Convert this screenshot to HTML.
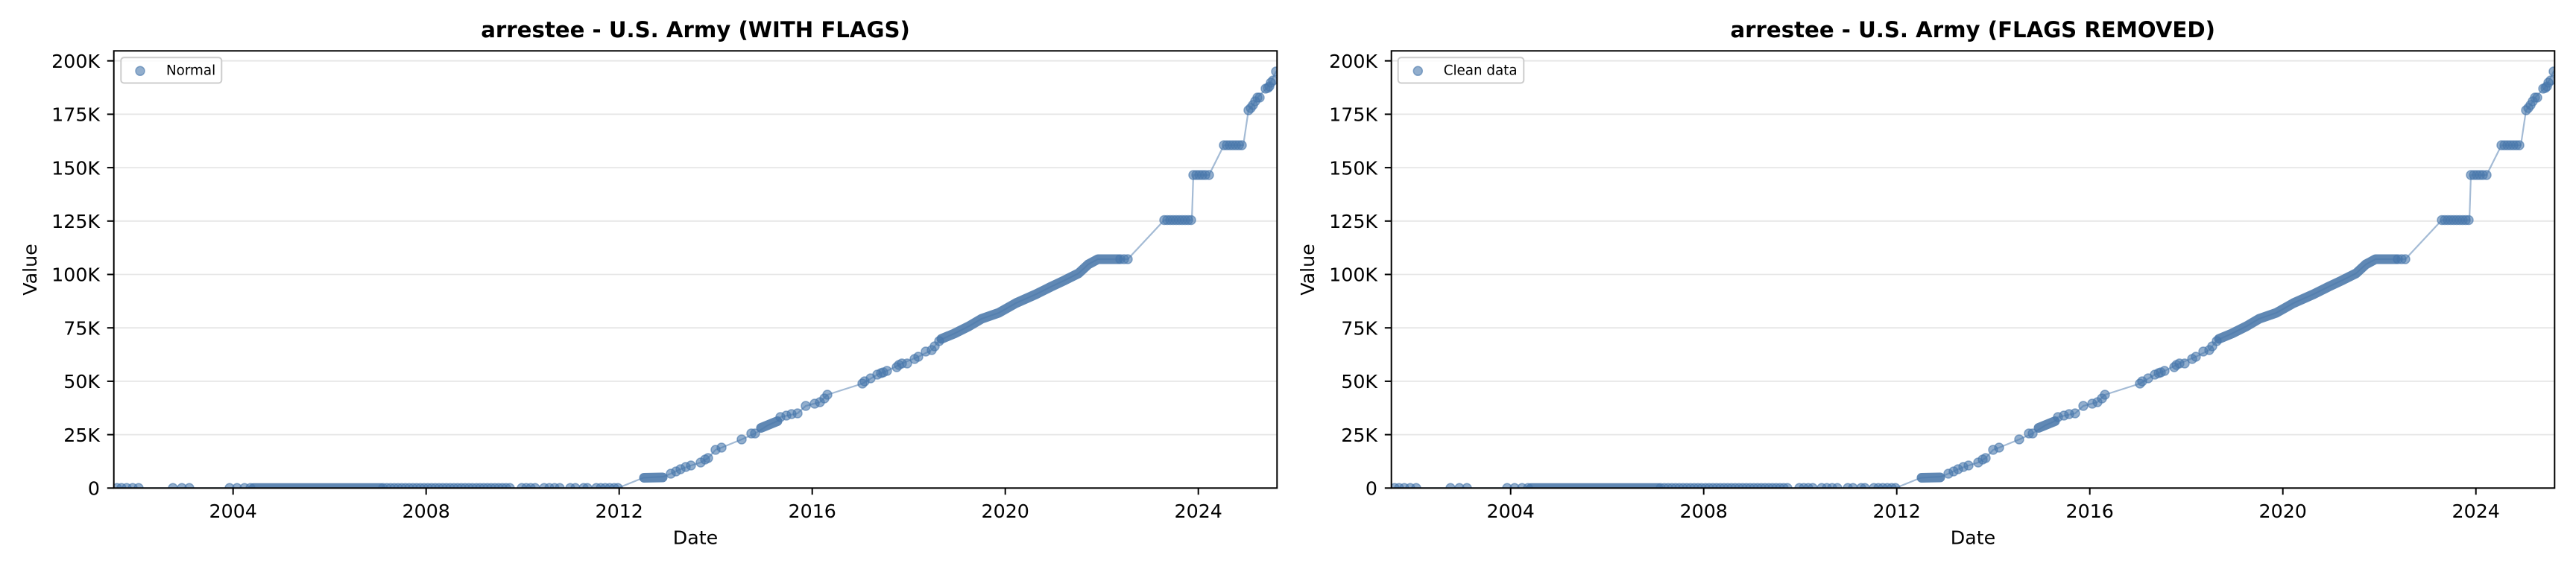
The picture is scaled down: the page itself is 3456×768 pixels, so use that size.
<!DOCTYPE html>
<html><head><meta charset="utf-8"><style>
html,body{margin:0;padding:0;background:#fff}
svg{display:block}
.t{font-family:"DejaVu Sans","Liberation Sans",sans-serif;font-size:25.3px;fill:#000}
.ti{font-family:"DejaVu Sans","Liberation Sans",sans-serif;font-size:29.2px;font-weight:bold;fill:#000}
.lg{font-family:"DejaVu Sans","Liberation Sans",sans-serif;font-size:18.3px;fill:#000}
.m{fill:#4a78ac;fill-opacity:.6;stroke:#4a78ac;stroke-opacity:.6;stroke-width:1.5}
.g{stroke:#e6e6e6;stroke-width:1.8}
.ln{fill:none;stroke:#4a78ac;stroke-opacity:.5;stroke-width:2.2;stroke-linejoin:round}
.bd{fill:none;stroke:#4a77aa;stroke-opacity:.88;stroke-width:13;stroke-linecap:round;stroke-linejoin:round}
</style></head><body>
<svg width="3456" height="768" viewBox="0 0 3456 768" xmlns="http://www.w3.org/2000/svg">
<rect width="3456" height="768" fill="#fff"/>
<defs>
<clipPath id="c"><rect x="152.7" y="68.3" width="1560.6" height="587"/></clipPath>
</defs>

<g id="ax">
  <g>
    <line class="g" x1="152.7" x2="1713.3" y1="583.6" y2="583.6"/>
    <line class="g" x1="152.7" x2="1713.3" y1="511.9" y2="511.9"/>
    <line class="g" x1="152.7" x2="1713.3" y1="440.2" y2="440.2"/>
    <line class="g" x1="152.7" x2="1713.3" y1="368.5" y2="368.5"/>
    <line class="g" x1="152.7" x2="1713.3" y1="296.8" y2="296.8"/>
    <line class="g" x1="152.7" x2="1713.3" y1="225.1" y2="225.1"/>
    <line class="g" x1="152.7" x2="1713.3" y1="153.4" y2="153.4"/>
    <line class="g" x1="152.7" x2="1713.3" y1="81.7" y2="81.7"/>
  </g>
  <g clip-path="url(#c)">
    <polyline class="ln" points="157,655.3 829,655.3 863,641.5 890,640 900,636 913,630 927,625 940,621 950,615 960,604 968,601 995,590 1013,582 1030,571 1044,565 1047,560 1070,555 1081,545 1100,540 1110,530 1157,515 1177,503 1190,498 1210,488 1232,479 1250,470 1260,457 1280,448 1300,438 1317,428 1340,420 1363,407 1390,395 1410,385 1427,377 1447,367 1460,355 1473,348 1513,348 1562,295.5 1599,295.5 1601,235 1622,235 1642,195 1668,195 1675,148 1681,141 1687,131 1700,118 1705,110 1712,96 1720,90"/>
    <polyline class="bd" points="340,655.3 511,655.3"/>
    <polyline class="bd" points="864,641.5 889,641"/>
    <polyline class="bd" points="1021,574.5 1043,565.5"/>
    <polyline class="bd" points="1263,455 1280,448 1300,438 1317,428 1340,420 1363,407 1390,395 1410,385 1427,377 1447,367 1460,355 1473,348 1500,348"/>
    <g>
      <circle class="m" r="6" cx="157" cy="655.3"/><circle class="m" r="6" cx="163" cy="655.3"/><circle class="m" r="6" cx="170" cy="655.3"/><circle class="m" r="6" cx="178" cy="655.3"/><circle class="m" r="6" cx="186" cy="655.3"/>
      <circle class="m" r="6" cx="232" cy="655.3"/><circle class="m" r="6" cx="244" cy="655.3"/><circle class="m" r="6" cx="254" cy="655.3"/>
      <circle class="m" r="6" cx="308" cy="655.3"/><circle class="m" r="6" cx="318" cy="655.3"/><circle class="m" r="6" cx="328" cy="655.3"/><circle class="m" r="6" cx="336" cy="655.3"/>
      <circle class="m" r="6" cx="514" cy="655.3"/><circle class="m" r="6" cx="519" cy="655.3"/><circle class="m" r="6" cx="524" cy="655.3"/><circle class="m" r="6" cx="529" cy="655.3"/><circle class="m" r="6" cx="534" cy="655.3"/><circle class="m" r="6" cx="539" cy="655.3"/><circle class="m" r="6" cx="544" cy="655.3"/><circle class="m" r="6" cx="549" cy="655.3"/><circle class="m" r="6" cx="554" cy="655.3"/><circle class="m" r="6" cx="559" cy="655.3"/><circle class="m" r="6" cx="564" cy="655.3"/><circle class="m" r="6" cx="569" cy="655.3"/><circle class="m" r="6" cx="574" cy="655.3"/><circle class="m" r="6" cx="579" cy="655.3"/><circle class="m" r="6" cx="584" cy="655.3"/><circle class="m" r="6" cx="589" cy="655.3"/><circle class="m" r="6" cx="594" cy="655.3"/><circle class="m" r="6" cx="599" cy="655.3"/><circle class="m" r="6" cx="604" cy="655.3"/><circle class="m" r="6" cx="609" cy="655.3"/><circle class="m" r="6" cx="614" cy="655.3"/><circle class="m" r="6" cx="619" cy="655.3"/><circle class="m" r="6" cx="624" cy="655.3"/><circle class="m" r="6" cx="629" cy="655.3"/><circle class="m" r="6" cx="634" cy="655.3"/><circle class="m" r="6" cx="639" cy="655.3"/><circle class="m" r="6" cx="644" cy="655.3"/><circle class="m" r="6" cx="649" cy="655.3"/><circle class="m" r="6" cx="654" cy="655.3"/><circle class="m" r="6" cx="659" cy="655.3"/><circle class="m" r="6" cx="664" cy="655.3"/><circle class="m" r="6" cx="669" cy="655.3"/><circle class="m" r="6" cx="674" cy="655.3"/><circle class="m" r="6" cx="679" cy="655.3"/><circle class="m" r="6" cx="684" cy="655.3"/>
      <circle class="m" r="6" cx="700" cy="655.3"/><circle class="m" r="6" cx="706" cy="655.3"/><circle class="m" r="6" cx="712" cy="655.3"/><circle class="m" r="6" cx="718" cy="655.3"/><circle class="m" r="6" cx="730" cy="655.3"/><circle class="m" r="6" cx="737" cy="655.3"/><circle class="m" r="6" cx="744" cy="655.3"/><circle class="m" r="6" cx="751" cy="655.3"/><circle class="m" r="6" cx="765" cy="655.3"/><circle class="m" r="6" cx="772" cy="655.3"/><circle class="m" r="6" cx="783" cy="655.3"/><circle class="m" r="6" cx="788" cy="655.3"/><circle class="m" r="6" cx="800" cy="655.3"/><circle class="m" r="6" cx="806" cy="655.3"/><circle class="m" r="6" cx="812" cy="655.3"/><circle class="m" r="6" cx="818" cy="655.3"/><circle class="m" r="6" cx="824" cy="655.3"/><circle class="m" r="6" cx="829" cy="655.3"/>
      <circle class="m" r="6" cx="900" cy="636"/><circle class="m" r="6" cx="907" cy="633"/><circle class="m" r="6" cx="913" cy="630"/><circle class="m" r="6" cx="920" cy="627"/><circle class="m" r="6" cx="927" cy="625"/><circle class="m" r="6" cx="940" cy="621"/><circle class="m" r="6" cx="946" cy="617"/><circle class="m" r="6" cx="950" cy="615"/><circle class="m" r="6" cx="960" cy="604"/><circle class="m" r="6" cx="968" cy="601"/><circle class="m" r="6" cx="995" cy="590"/><circle class="m" r="6" cx="1008" cy="582"/><circle class="m" r="6" cx="1013" cy="582"/><circle class="m" r="6" cx="1047" cy="560"/><circle class="m" r="6" cx="1055" cy="558"/><circle class="m" r="6" cx="1062" cy="556"/><circle class="m" r="6" cx="1070" cy="555"/><circle class="m" r="6" cx="1081" cy="545"/><circle class="m" r="6" cx="1093" cy="542"/><circle class="m" r="6" cx="1100" cy="540"/><circle class="m" r="6" cx="1106" cy="535"/><circle class="m" r="6" cx="1110" cy="530"/>
      <circle class="m" r="6" cx="1157" cy="515"/><circle class="m" r="6" cx="1160" cy="512"/><circle class="m" r="6" cx="1168" cy="508"/><circle class="m" r="6" cx="1177" cy="503"/><circle class="m" r="6" cx="1182" cy="501"/><circle class="m" r="6" cx="1185" cy="500"/><circle class="m" r="6" cx="1190" cy="498"/><circle class="m" r="6" cx="1203" cy="493"/><circle class="m" r="6" cx="1206" cy="490"/><circle class="m" r="6" cx="1210" cy="488"/><circle class="m" r="6" cx="1217" cy="488"/><circle class="m" r="6" cx="1227" cy="482"/><circle class="m" r="6" cx="1232" cy="479"/><circle class="m" r="6" cx="1242" cy="472"/><circle class="m" r="6" cx="1250" cy="470"/><circle class="m" r="6" cx="1254" cy="465"/><circle class="m" r="6" cx="1260" cy="458"/>
      <circle class="m" r="6" cx="1503" cy="348"/><circle class="m" r="6" cx="1508" cy="348"/><circle class="m" r="6" cx="1513" cy="348"/>
      <circle class="m" r="6" cx="1562" cy="295.5"/><circle class="m" r="6" cx="1566" cy="295.5"/><circle class="m" r="6" cx="1570" cy="295.5"/><circle class="m" r="6" cx="1574" cy="295.5"/><circle class="m" r="6" cx="1578" cy="295.5"/><circle class="m" r="6" cx="1582" cy="295.5"/><circle class="m" r="6" cx="1586" cy="295.5"/><circle class="m" r="6" cx="1590" cy="295.5"/><circle class="m" r="6" cx="1594" cy="295.5"/><circle class="m" r="6" cx="1598" cy="295.5"/>
      <circle class="m" r="6" cx="1601" cy="235"/><circle class="m" r="6" cx="1605" cy="235"/><circle class="m" r="6" cx="1609" cy="235"/><circle class="m" r="6" cx="1613" cy="235"/><circle class="m" r="6" cx="1617" cy="235"/><circle class="m" r="6" cx="1622" cy="235"/>
      <circle class="m" r="6" cx="1642" cy="195"/><circle class="m" r="6" cx="1646" cy="195"/><circle class="m" r="6" cx="1650" cy="195"/><circle class="m" r="6" cx="1654" cy="195"/><circle class="m" r="6" cx="1658" cy="195"/><circle class="m" r="6" cx="1662" cy="195"/><circle class="m" r="6" cx="1666" cy="195"/>
      <circle class="m" r="6" cx="1675" cy="148"/><circle class="m" r="6" cx="1678" cy="145"/><circle class="m" r="6" cx="1681" cy="141"/><circle class="m" r="6" cx="1684" cy="136"/><circle class="m" r="6" cx="1687" cy="131"/><circle class="m" r="6" cx="1690" cy="131"/><circle class="m" r="6" cx="1698" cy="119"/><circle class="m" r="6" cx="1701" cy="118"/><circle class="m" r="6" cx="1703" cy="116"/><circle class="m" r="6" cx="1705" cy="111"/><circle class="m" r="6" cx="1708" cy="108"/><circle class="m" r="6" cx="1712" cy="96"/>
    </g>
  </g>
  <rect x="152.7" y="68.3" width="1560.6" height="587" fill="none" stroke="#000" stroke-width="2"/>
  <g stroke="#000" stroke-width="2">
    <line x1="143.8" x2="152.7" y1="655.3" y2="655.3"/>
    <line x1="143.8" x2="152.7" y1="583.6" y2="583.6"/>
    <line x1="143.8" x2="152.7" y1="511.9" y2="511.9"/>
    <line x1="143.8" x2="152.7" y1="440.2" y2="440.2"/>
    <line x1="143.8" x2="152.7" y1="368.5" y2="368.5"/>
    <line x1="143.8" x2="152.7" y1="296.8" y2="296.8"/>
    <line x1="143.8" x2="152.7" y1="225.1" y2="225.1"/>
    <line x1="143.8" x2="152.7" y1="153.4" y2="153.4"/>
    <line x1="143.8" x2="152.7" y1="81.7" y2="81.7"/>
    <line x1="312.7" x2="312.7" y1="655.3" y2="664.2"/>
    <line x1="571.7" x2="571.7" y1="655.3" y2="664.2"/>
    <line x1="830.7" x2="830.7" y1="655.3" y2="664.2"/>
    <line x1="1089.7" x2="1089.7" y1="655.3" y2="664.2"/>
    <line x1="1348.7" x2="1348.7" y1="655.3" y2="664.2"/>
    <line x1="1607.7" x2="1607.7" y1="655.3" y2="664.2"/>
  </g>
</g>
<use href="#ax" transform="translate(1714,0)"/>

<g class="t" text-anchor="end">
  <text x="134" y="664.5">0</text>
  <text x="134" y="592.8">25K</text>
  <text x="134" y="521.1">50K</text>
  <text x="134" y="449.4">75K</text>
  <text x="134" y="377.7">100K</text>
  <text x="134" y="306">125K</text>
  <text x="134" y="234.3">150K</text>
  <text x="134" y="162.6">175K</text>
  <text x="134" y="90.9">200K</text>
</g>
<g class="t" text-anchor="middle">
  <text x="312.7" y="695">2004</text>
  <text x="571.7" y="695">2008</text>
  <text x="830.7" y="695">2012</text>
  <text x="1089.7" y="695">2016</text>
  <text x="1348.7" y="695">2020</text>
  <text x="1607.7" y="695">2024</text>
  <text x="933" y="730.5">Date</text>
</g>
<text class="t" text-anchor="middle" transform="translate(49,362) rotate(-90)">Value</text>
<text class="ti" x="933" y="50" text-anchor="middle">arrestee - U.S. Army (WITH FLAGS)</text>
<rect x="162.3" y="77.3" width="135" height="34.2" rx="4" ry="4" fill="#fff" fill-opacity=".8" stroke="#cccccc" stroke-width="2"/>
<circle class="m" r="6" cx="188" cy="95.3"/>
<text class="lg" x="223" y="100.3">Normal</text>

<g class="t" text-anchor="end">
  <text x="1848" y="664.5">0</text>
  <text x="1848" y="592.8">25K</text>
  <text x="1848" y="521.1">50K</text>
  <text x="1848" y="449.4">75K</text>
  <text x="1848" y="377.7">100K</text>
  <text x="1848" y="306">125K</text>
  <text x="1848" y="234.3">150K</text>
  <text x="1848" y="162.6">175K</text>
  <text x="1848" y="90.9">200K</text>
</g>
<g class="t" text-anchor="middle">
  <text x="2026.7" y="695">2004</text>
  <text x="2285.7" y="695">2008</text>
  <text x="2544.7" y="695">2012</text>
  <text x="2803.7" y="695">2016</text>
  <text x="3062.7" y="695">2020</text>
  <text x="3321.7" y="695">2024</text>
  <text x="2647" y="730.5">Date</text>
</g>
<text class="t" text-anchor="middle" transform="translate(1763,362) rotate(-90)">Value</text>
<text class="ti" x="2646.7" y="50" text-anchor="middle">arrestee - U.S. Army (FLAGS REMOVED)</text>
<rect x="1875.7" y="77.3" width="168.6" height="34.2" rx="4" ry="4" fill="#fff" fill-opacity=".8" stroke="#cccccc" stroke-width="2"/>
<circle class="m" r="6" cx="1902.3" cy="95.3"/>
<text class="lg" x="1936.7" y="100.3">Clean data</text>
</svg>
</body></html>
